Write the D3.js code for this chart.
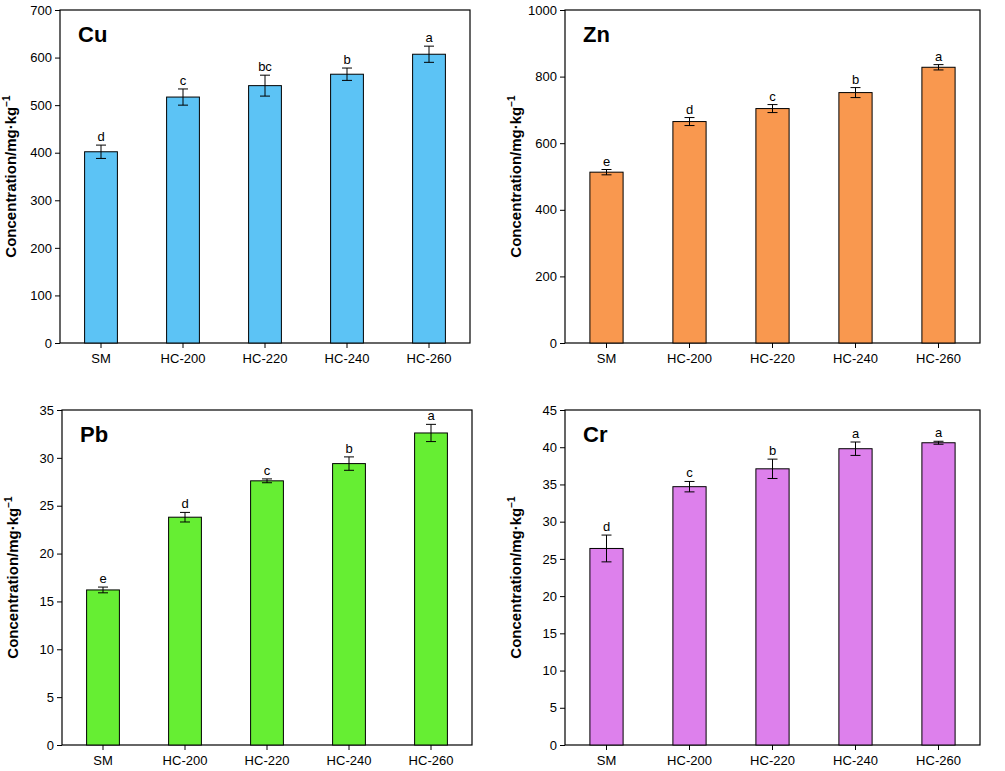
<!DOCTYPE html><html><head><meta charset="utf-8"><script src="https://cdn.jsdelivr.net/npm/d3@7"></script>
<style>body{margin:0;background:#fff}</style></head><body><svg id="c" width="1005" height="771"></svg>
<script>
const categories=["SM","HC-200","HC-220","HC-240","HC-260"];
const cuValues=[402,517,541,565,607], cuErr=[14,17,22,13,17], cuLetters=["d","c","bc","b","a"];
const znValues=[513,665,704,752,828], znErr=[8,12,12,15,8], znLetters=["e","d","c","b","a"];
const pbValues=[16.2,23.8,27.6,29.4,32.6], pbErr=[0.3,0.5,0.2,0.7,0.9], pbLetters=["e","d","c","b","a"];
const crValues=[26.4,34.7,37.1,39.8,40.6], crErr=[1.8,0.7,1.3,0.9,0.2], crLetters=["d","c","b","a","a"];
const panels=[
 {name:"Cu",v:cuValues,e:cuErr,l:cuLetters,max:700,step:100,color:"#5cc3f5",x0:60,x1:470,y0:10,y1:343},
 {name:"Zn",v:znValues,e:znErr,l:znLetters,max:1000,step:200,color:"#f9984f",x0:565,x1:980,y0:10,y1:343},
 {name:"Pb",v:pbValues,e:pbErr,l:pbLetters,max:35,step:5,color:"#66ee33",x0:62,x1:472,y0:410,y1:745},
 {name:"Cr",v:crValues,e:crErr,l:crLetters,max:45,step:5,color:"#dd80ec",x0:565,x1:980,y0:410,y1:745}];
const svg=d3.select("#c");
panels.forEach(p=>{
 const g=svg.append("g");
 const x=d3.scaleBand().domain(categories).range([p.x0,p.x1]).paddingInner(0.6).paddingOuter(0.3);
 const y=d3.scaleLinear().domain([0,p.max]).range([p.y1,p.y0]);
 const ya=g.append("g").attr("transform",`translate(${p.x0},0)`).call(d3.axisLeft(y).ticks(p.max/p.step).tickFormat(d3.format("d")).tickSizeOuter(0).tickSize(5));
 const xa=g.append("g").attr("transform",`translate(0,${p.y1})`).call(d3.axisBottom(x).tickSizeOuter(0).tickSize(5));
 [ya,xa].forEach(a=>{a.selectAll("text").style("font-family","Arial, Liberation Sans").style("font-size","13px").attr("fill","#000");a.select(".domain").remove();});
 xa.selectAll("text").attr("dy","0.9em");
 g.append("rect").attr("x",p.x0).attr("y",p.y0).attr("width",p.x1-p.x0).attr("height",p.y1-p.y0).attr("fill","none").attr("stroke","#000").attr("stroke-width",1.2);
 categories.forEach((c,i)=>{
  const bx=x(c),bw=x.bandwidth(),cx=bx+bw/2;
  g.append("rect").attr("x",bx).attr("y",y(p.v[i])).attr("width",bw).attr("height",y(0)-y(p.v[i])).attr("fill",p.color).attr("stroke","#000").attr("stroke-width",1);
  const top=y(p.v[i]+p.e[i]),bot=y(p.v[i]-p.e[i]);
  g.append("line").attr("x1",cx).attr("x2",cx).attr("y1",top).attr("y2",bot).attr("stroke","#000");
  [top,bot].forEach(yy=>g.append("line").attr("x1",cx-5).attr("x2",cx+5).attr("y1",yy).attr("y2",yy).attr("stroke","#000"));
  g.append("text").attr("x",cx).attr("y",top-4).attr("text-anchor","middle").style("font-family","Arial, Liberation Sans").style("font-size","13px").text(p.l[i]);
 });
 g.append("text").attr("x",p.x0+18).attr("y",p.y0+32).style("font-family","Arial, Liberation Sans").style("font-weight","bold").style("font-size","22px").text(p.name);
 const t=g.append("text").attr("transform",`translate(${p.x0-44},${(p.y0+p.y1)/2}) rotate(-90)`).attr("text-anchor","middle").style("font-family","Arial, Liberation Sans").style("font-weight","bold").style("font-size","15px");
 t.append("tspan").text("Concentration/mg·kg");
 t.append("tspan").attr("dy","-6").style("font-size","10px").text("−1");
});
</script></body></html>
